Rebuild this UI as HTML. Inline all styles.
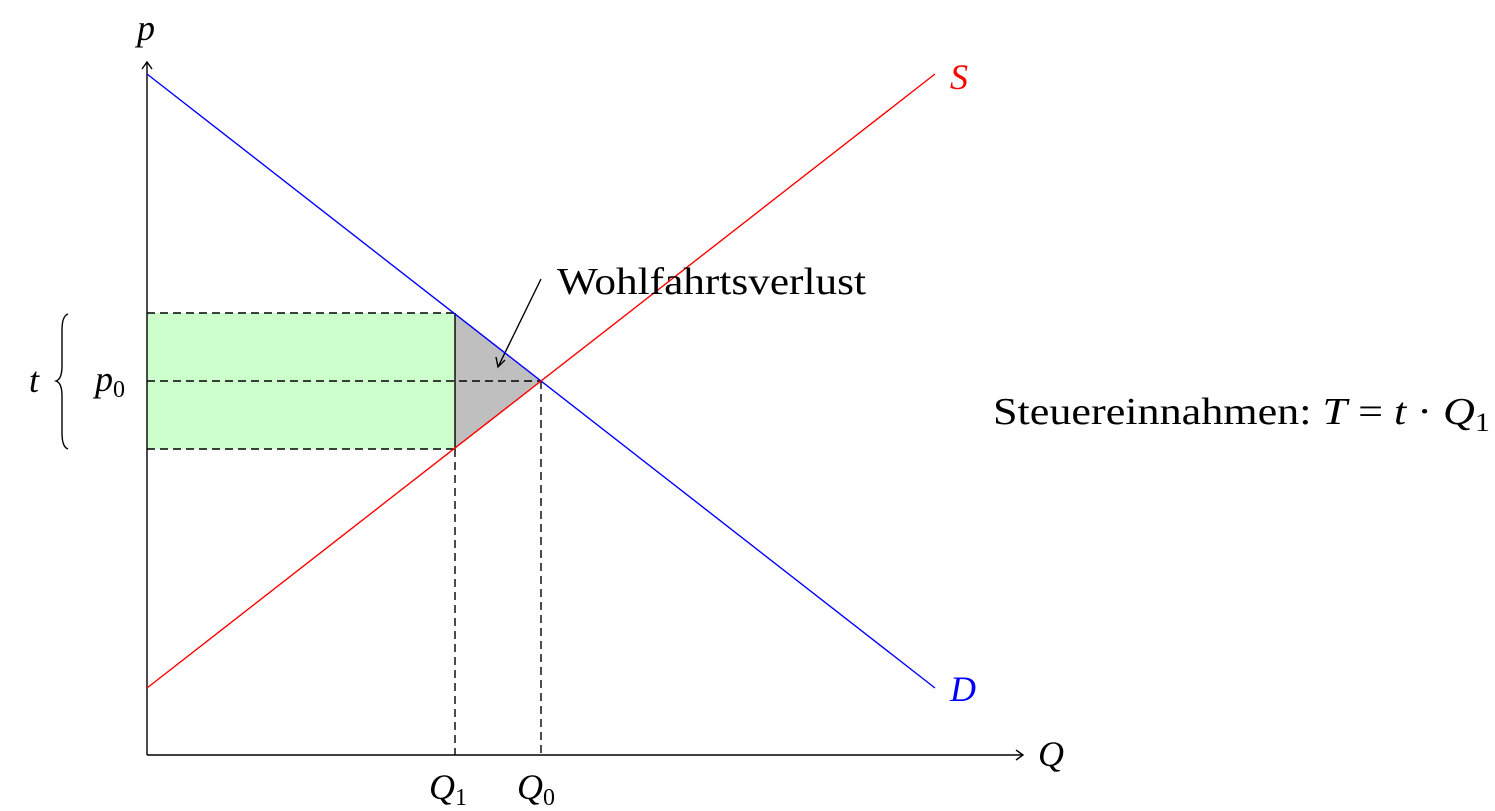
<!DOCTYPE html>
<html><head><meta charset="utf-8"><style>
html,body{margin:0;padding:0;background:#fff;}
svg{display:block;}
text{font-family:"Liberation Serif",serif;}
</style></head><body>
<svg width="1495" height="811" viewBox="0 0 1495 811" xmlns="http://www.w3.org/2000/svg">
<rect x="147" y="313" width="308" height="136" fill="#ccffcc"/>
<polygon points="455,313 455,449 541,381" fill="#bfbfbf"/>
<g stroke="#000" stroke-width="1.4" fill="none">
<line x1="147" y1="755" x2="147" y2="62"/>
<polyline points="142,69 147,62 152,69"/>
<line x1="147" y1="755" x2="1023" y2="755"/>
<polyline points="1016,750 1023,755 1016,760"/>
<g stroke-dasharray="8,5">
<line x1="147" y1="313" x2="455" y2="313"/>
<line x1="147" y1="449" x2="455" y2="449"/>
<line x1="147" y1="381" x2="541" y2="381"/>
<line x1="455" y1="449" x2="455" y2="755"/>
<line x1="541" y1="381" x2="541" y2="755"/>
</g>
<line x1="455" y1="313" x2="455" y2="449"/>
<line x1="541" y1="279" x2="498" y2="367"/>
<polyline points="496,357 498,367 505,360"/>
<path d="M68,314 Q62,316 62,330 L62,366 Q62,379 56,381 Q62,383 62,396 L62,433 Q62,447 68,449"/>
</g>
<line x1="147" y1="74" x2="935" y2="688" stroke="#0000ff" stroke-width="1.4"/>
<line x1="147" y1="688" x2="935" y2="74" stroke="#ff0000" stroke-width="1.4"/>
<g font-size="36" font-style="italic">
<text x="137" y="40">p</text>
<text x="1038" y="766">Q</text>
<text x="950" y="89" fill="#ff0000">S</text>
<text x="950" y="701" fill="#0000ff">D</text>
<text x="429" y="799">Q<tspan font-size="24" font-style="normal" dy="6">1</tspan></text>
<text x="517" y="799">Q<tspan font-size="24" font-style="normal" dy="6">0</tspan></text>
<text x="95" y="391">p<tspan font-size="24" font-style="normal" dy="6">0</tspan></text>
<text x="29" y="392">t</text>
</g>
<text x="557" y="294" font-size="38" textLength="309" lengthAdjust="spacingAndGlyphs">Wohlfahrtsverlust</text>
<text x="993" y="424" font-size="38" textLength="497" lengthAdjust="spacingAndGlyphs">Steuereinnahmen: <tspan font-style="italic">T</tspan> = <tspan font-style="italic">t</tspan> · <tspan font-style="italic">Q</tspan><tspan font-size="26" dy="7">1</tspan></text>
</svg>
</body></html>
